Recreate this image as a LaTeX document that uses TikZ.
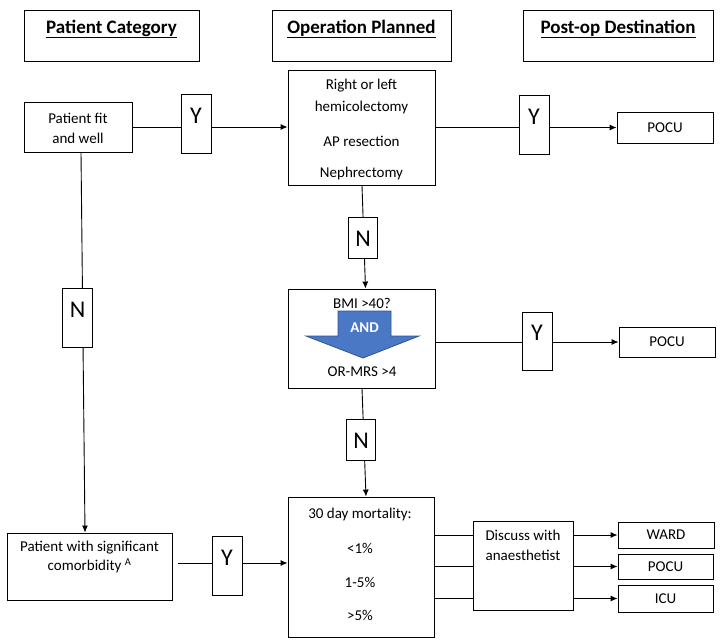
\documentclass[tikz,border=0pt]{standalone}
\usepackage{fontspec}
\setmainfont{Carlito}
\usetikzlibrary{arrows.meta,backgrounds}
\definecolor{andblue}{RGB}{74,120,196}
\definecolor{andedge}{RGB}{47,85,151}
\begin{document}
\begin{tikzpicture}[x=1pt,y=-1pt,
  box/.style={draw=black,line width=0.9pt,fill=white,inner sep=0pt},
  txt/.style={font=\fontsize{15}{18}\selectfont,inner sep=0pt,anchor=center},
  big/.style={font=\fontsize{24}{28}\selectfont,inner sep=0pt},
  hdr/.style={font=\fontsize{19}{22}\selectfont\bfseries,inner sep=0pt},
  conn/.style={line width=0.9pt},
  arr/.style={conn,-{Latex[length=7pt,width=6pt]}}]
\useasboundingbox (0,0) rectangle (724,641);

% header boxes
\node[box,minimum width=175pt,minimum height=51pt] (h1) at (111.5,35.5) {};
\node[box,minimum width=179pt,minimum height=51pt] (h2) at (361.5,35.5) {};
\node[box,minimum width=190pt,minimum height=51pt] (h3) at (618,35.5) {};
\node[hdr] (h1t) at (111.5,29) {\underline{Patient Category}};
\node[hdr] (h2t) at (361.5,29) {\underline{Operation Planned}};
\node[hdr] (h3t) at (618,29) {\underline{Post-op Destination}};

% patient fit and well
\node[box,minimum width=108pt,minimum height=50pt] (fit) at (78,127) {};
\node[txt] (fit1) at (78,118) {Patient fit};
\node[txt] (fit2) at (78,138) {and well};

% Y1
\node[box,minimum width=30pt,minimum height=59pt] (y1) at (196,123.5) {};
\node[big] (y1t) at (196,116) {Y};

% right box
\node[box,minimum width=147pt,minimum height=115pt] (rb) at (361.5,127.5) {};
\node[txt] (rb1) at (361.5,86) {Right or left};
\node[txt] (rb2) at (361.5,107) {hemicolectomy};
\node[txt] (rb3) at (361.5,141) {AP resection};
\node[txt] (rb4) at (361.5,173) {Nephrectomy};

% Y2 and POCU1
\node[box,minimum width=30pt,minimum height=59pt] (y2) at (534,124.5) {};
\node[big] (y2t) at (534,117) {Y};
\node[box,minimum width=96pt,minimum height=31pt] (pocu1) at (665,127.5) {};
\node[txt] (pocu1t) at (665,127.5) {POCU};

% N1
\node[box,minimum width=29pt,minimum height=41pt] (n1) at (363,237.5) {};
\node[big] (n1t) at (363,239) {N};

% BMI box
\node[box,minimum width=147pt,minimum height=99pt] (bmi) at (361.5,338.5) {};
\draw[fill=andblue,draw=andedge,line width=0.8pt]
  (338,311) -- (391,311) -- (391,336) -- (419,336) -- (363,358) -- (306,336) -- (338,336) -- cycle;
\node[txt,text=white,font=\fontsize{15}{18}\selectfont\bfseries] (andt) at (364.5,328) {AND};
\node[txt] (bmi1) at (362,303) {BMI >40?};
\node[txt] (bmi2) at (362,372) {OR-MRS >4};

% Y4 and POCU2
\node[box,minimum width=30pt,minimum height=58pt] (y4) at (537,341) {};
\node[big] (y4t) at (537,333) {Y};
\node[box,minimum width=96pt,minimum height=30pt] (pocu2) at (667,342) {};
\node[txt] (pocu2t) at (667,342) {POCU};

% N2
\node[box,minimum width=29pt,minimum height=41pt] (n2) at (361,439.5) {};
\node[big] (n2t) at (361,441) {N};

% N left
\node[box,minimum width=30pt,minimum height=59pt] (nl) at (77.5,317.5) {};
\node[big] (nlt) at (77.5,310) {N};

% comorbidity
\node[box,minimum width=165pt,minimum height=67pt] (comorb) at (89.5,566.5) {};
\node[txt] (cm1) at (89.5,548) {Patient with significant};
\node[txt] (cm2) at (89.5,566) {comorbidity \textsuperscript{A}};

% Y3
\node[box,minimum width=30pt,minimum height=59pt] (y3) at (227,565.5) {};
\node[big] (y3t) at (227,558) {Y};

% 30 day mortality
\node[box,minimum width=146pt,minimum height=140pt] (thirty) at (361,567) {};
\node[txt] (th1) at (360,514) {30 day mortality:};
\node[txt] (th2) at (360,548) {<1\%};
\node[txt] (th3) at (360,582) {1-5\%};
\node[txt] (th4) at (360,615) {>5\%};

% discuss
\node[box,minimum width=100pt,minimum height=89pt] (disc) at (523,565.5) {};
\node[txt] (d1) at (523,535) {Discuss with};
\node[txt] (d2) at (523,555) {anaesthetist};

% destinations
\node[box,minimum width=96pt,minimum height=26pt] (ward) at (666,535) {};
\node[txt] (wardt) at (666,535) {WARD};
\node[box,minimum width=95pt,minimum height=25pt] (pocu3) at (665.5,566.5) {};
\node[txt] (pocu3t) at (665.5,566.5) {POCU};
\node[box,minimum width=95pt,minimum height=27pt] (icu) at (665.5,598.5) {};
\node[txt] (icut) at (665.5,598.5) {ICU};

\coordinate (cs) at (178,563);

\begin{scope}[on background layer]
\draw[arr] (fit.east) -- (fit.east -| rb.west);
\draw[arr] (rb.east |- pocu1.west) -- (pocu1.west);
\draw[arr] ([xshift=0.5pt]rb.south) -- ([xshift=4pt]bmi.north);
\draw[arr] (bmi.east |- pocu2.west) -- (pocu2.west);
\draw[arr] ([xshift=0.5pt]bmi.south) -- ([xshift=5pt]thirty.north);
\draw[arr] ([xshift=3pt]fit.south) -- ([xshift=-4.5pt]comorb.north);
\draw[arr] (cs) -- (cs -| thirty.west);
\draw[conn] (thirty.east |- ward.west) -- (disc.west |- ward.west);
\draw[conn] (thirty.east |- pocu3.west) -- (disc.west |- pocu3.west);
\draw[conn] (thirty.east |- icu.west) -- (disc.west |- icu.west);
\draw[arr] (disc.east |- ward.west) -- (ward.west);
\draw[arr] (disc.east |- pocu3.west) -- (pocu3.west);
\draw[arr] (disc.east |- icu.west) -- (icu.west);
\end{scope}
\end{tikzpicture}
\end{document}
